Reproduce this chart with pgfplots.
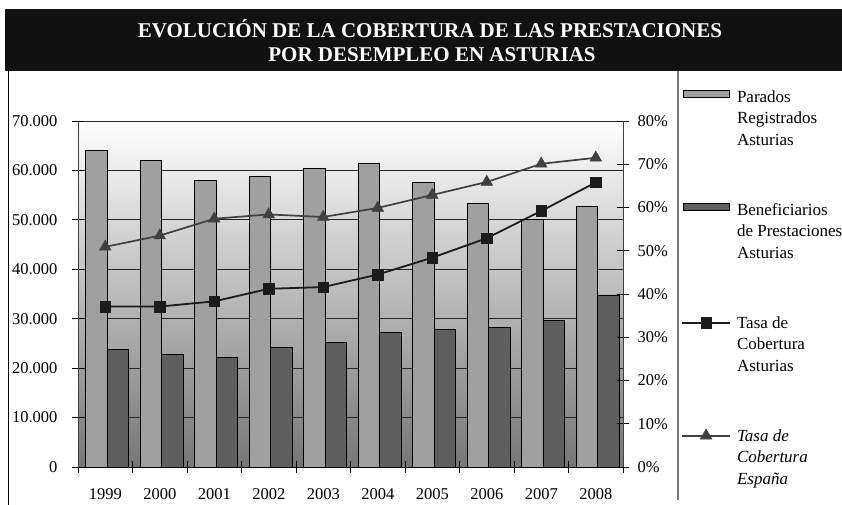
\documentclass[border=0pt]{standalone}
\usepackage{pgfplots}
\pgfplotsset{compat=1.18}
\usepackage{fontspec}
\setmainfont{Liberation Serif}
\definecolor{barlight}{RGB}{160,160,160}
\definecolor{bardark}{RGB}{95,95,95}
\definecolor{bgbot}{RGB}{118,118,118}
\definecolor{linegray}{RGB}{64,64,64}
\definecolor{lineblack}{RGB}{28,28,28}
\definecolor{titlebg}{RGB}{17,17,17}
\definecolor{divgray}{RGB}{120,120,120}
\newcommand{\lblfont}{\fontsize{16.5bp}{21.5bp}\selectfont}
\newcommand{\legfont}{\fontsize{17bp}{21.5bp}\selectfont}
\begin{document}
\begin{tikzpicture}[x=1bp,y=1bp]
\useasboundingbox (0,0) rectangle (842,505);
\fill[titlebg] (5,434) rectangle (842,496);
\node[white, font=\fontsize{21bp}{24bp}\selectfont\bfseries] at (430,476) {EVOLUCIÓN DE LA COBERTURA DE LAS PRESTACIONES};
\node[white, font=\fontsize{21bp}{24bp}\selectfont\bfseries] at (432,450) {POR DESEMPLEO EN ASTURIAS};
\draw[black, line width=1bp] (8,0) -- (8,434);
\draw[divgray, line width=1.5bp] (678,5) -- (678,434);

\begin{axis}[
  at={(78bp,38bp)}, anchor=south west,
  width=545bp, height=346bp, scale only axis,
  xmin=-0.5, xmax=9.5, ymin=0, ymax=70000,
  axis x line*=bottom, axis y line*=left,
  x axis line style={black, line width=0.8bp},
  y axis line style={black!75, line width=1bp},
  axis background/.style={top color=white, bottom color=bgbot},
  xtick={-0.5,0.5,...,9.5}, xticklabels={},
  extra x ticks={0,1,2,3,4,5,6,7,8,9},
  extra x tick labels={1999,2000,2001,2002,2003,2004,2005,2006,2007,2008},
  extra x tick style={major tick length=0pt, xticklabel style={yshift=-18bp}},
  ytick={0,10000,...,70000},
  yticklabel style={xshift=-11bp},
  scaled y ticks=false,
  tick align=center, major tick length=12bp,
  tick style={black, line width=0.8bp},
  ymajorgrids, major grid style={black!85, line width=0.8bp},
  ticklabel style={font=\lblfont},
  /pgf/number format/.cd, 1000 sep={.}, assume math mode=true,
]
\addplot[ybar, bar width=21.5bp, bar shift=-8.75bp, fill=barlight, draw=black, line width=0.7bp]
  coordinates {(0,64100) (1,62000) (2,57900) (3,58900) (4,60350) (5,61400) (6,57500) (7,53350) (8,50100) (9,52700)};
\addplot[ybar, bar width=21.5bp, bar shift=12.75bp, fill=bardark, draw=black, line width=0.7bp]
  coordinates {(0,23800) (1,22800) (2,22100) (3,24150) (4,25150) (5,27150) (6,27850) (7,28200) (8,29650) (9,34800)};
\end{axis}

\begin{axis}[
  at={(78bp,38bp)}, anchor=south west,
  width=545bp, height=346bp, scale only axis,
  xmin=-0.5, xmax=9.5, ymin=0, ymax=80,
  axis x line=none, axis y line*=right,
  y axis line style={black!75, line width=1bp},
  ytick={0,10,...,80},
  yticklabel={\pgfmathprintnumber{\tick}\%},
  yticklabel style={xshift=5bp},
  tick align=center, major tick length=12bp,
  tick style={black, line width=0.8bp},
  ticklabel style={font=\lblfont},
  /pgf/number format/assume math mode=true,
  legend image code/.code={\draw[mark repeat=2,mark phase=2,#1] plot coordinates {(0bp,5.5bp) (24bp,5.5bp) (48bp,5.5bp)};},
  legend style={at={(axis description cs:1.1064,1.0983)}, anchor=north west,
    draw=none, fill=none, inner sep=0pt, row sep=48.5bp, column sep=6bp,
    font=\legfont, nodes={inner sep=0pt, text depth=}, cells={anchor=base west}},
]
\addlegendimage{legend image code/.code={\draw[fill=barlight, draw=black, line width=0.7bp] (1bp,4.5bp) rectangle (47bp,11.5bp);}}
\addlegendentry{\begin{tabular}[t]{@{}l@{}}Parados\\Registrados\\Asturias\end{tabular}}
\addlegendimage{legend image code/.code={\draw[fill=bardark, draw=black, line width=0.7bp] (1bp,4.5bp) rectangle (47bp,11.5bp);}}
\addlegendentry{\begin{tabular}[t]{@{}l@{}}Beneficiarios\\de Prestaciones\\Asturias\end{tabular}}
\addplot[lineblack, line width=1.8bp, mark=square*, mark size=5.3bp, mark options={fill=lineblack, draw=lineblack, solid, line width=0.5bp}]
  coordinates {(0,37.1) (1,37.1) (2,38.3) (3,41.2) (4,41.6) (5,44.5) (6,48.4) (7,52.9) (8,59.2) (9,65.8)};
\addlegendentry{\begin{tabular}[t]{@{}l@{}}Tasa de\\Cobertura\\Asturias\end{tabular}}
\addplot[linegray, line width=1.7bp, mark=triangle*, mark size=6.7bp, mark options={fill=linegray, draw=linegray, solid, line width=0.5bp}]
  coordinates {(0,50.9) (1,53.5) (2,57.4) (3,58.4) (4,57.8) (5,59.9) (6,62.9) (7,65.9) (8,70.1) (9,71.5)};
\addlegendentry{\begin{tabular}[t]{@{}l@{}}\itshape Tasa de\\\itshape Cobertura\\\itshape España\end{tabular}}
\end{axis}
\end{tikzpicture}
\end{document}
